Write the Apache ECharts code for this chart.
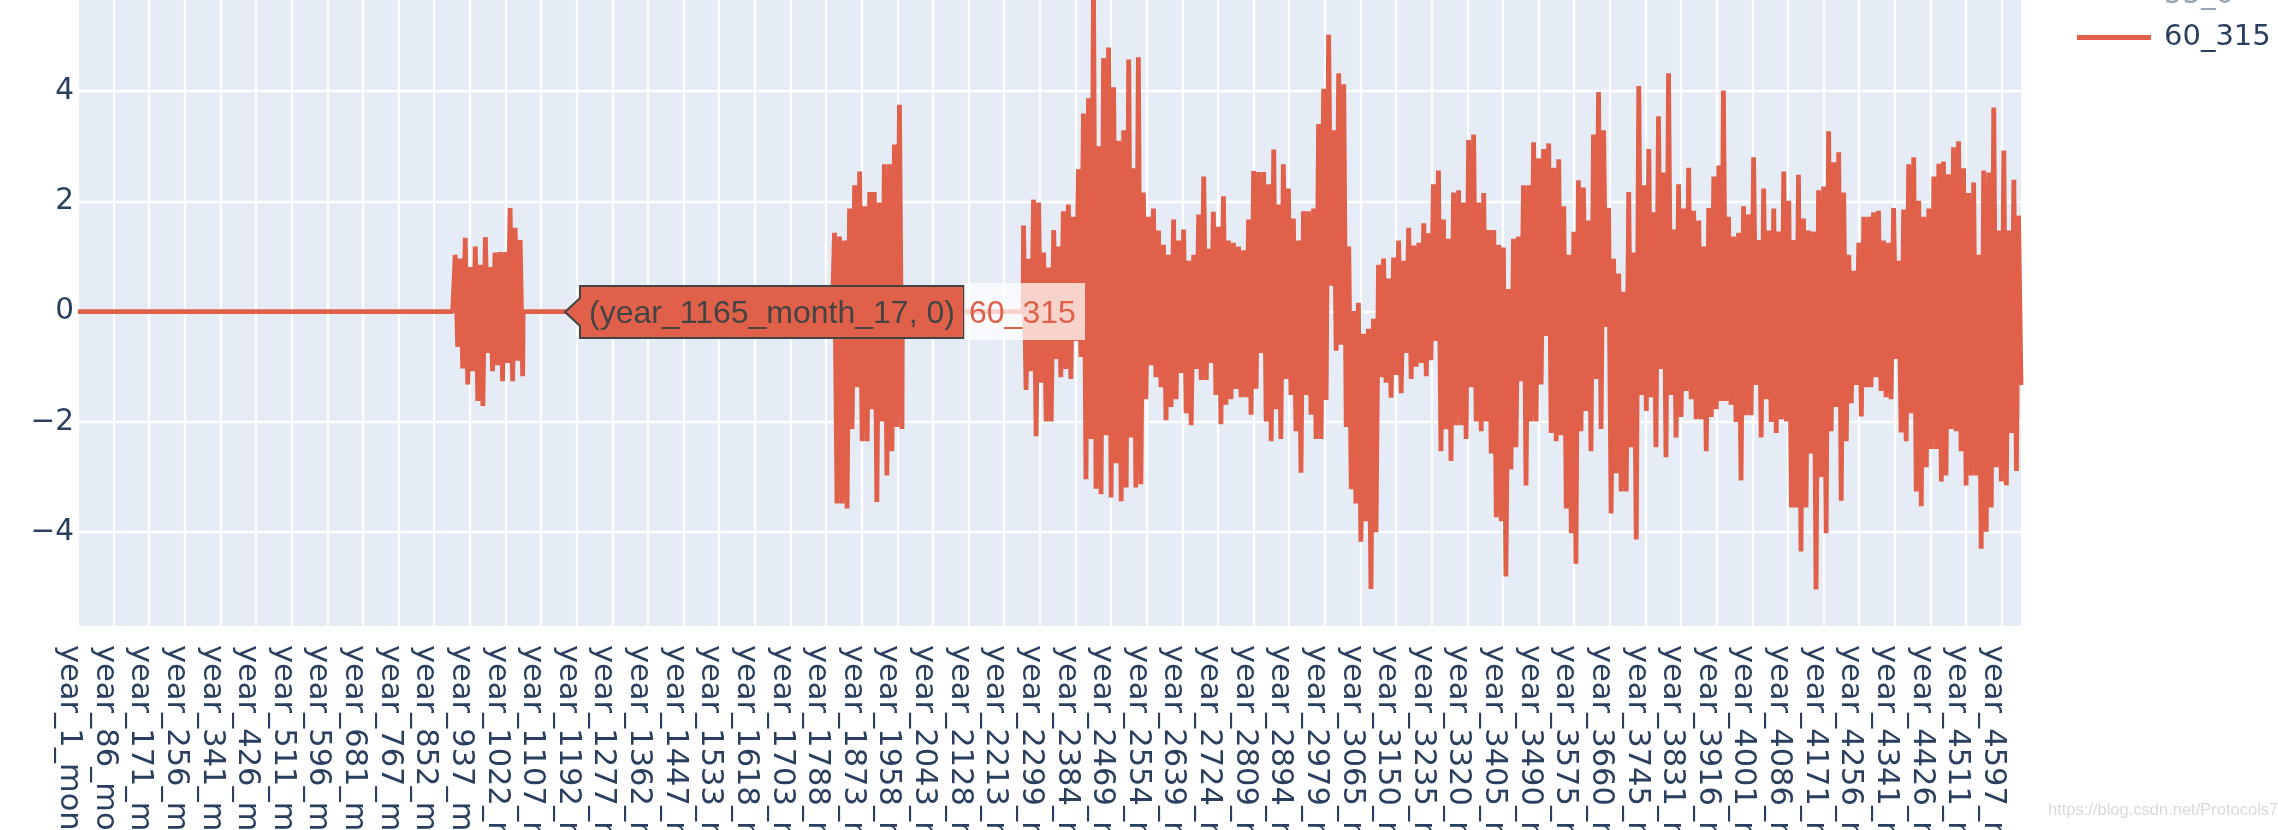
<!DOCTYPE html>
<html>
<head>
<meta charset="utf-8">
<script src="https://cdn.jsdelivr.net/npm/echarts@6/dist/echarts.min.js"></script>
<style>
html, body { margin: 0; padding: 0; background: #ffffff; }
#chart { width: 2278px; height: 830px; }
</style>
</head>
<body>
<div id="chart"></div>
<script>
// ---------------- data ----------------
const tickYears = [1,86,171,256,341,426,511,596,681,767,852,937,1022,1107,1192,1277,1362,1447,1533,1618,1703,1788,1873,1958,2043,2128,2213,2299,2384,2469,2554,2639,2724,2809,2894,2979,3065,3150,3235,3320,3405,3490,3575,3660,3745,3831,3916,4001,4086,4171,4256,4341,4426,4511,4597];
const categoriesPerTick = 85;
const categoryCount = 4637;
const yTicks = [-4, -2, 0, 2, 4];
const seriesNames = ['55_0', '60_315'];
const hoverCategory = 'year_1165_month_17';
const sampleStep = 5.966;             // categories between successive readings
const flatZeroRanges = [[0, 899], [1062, 1804], [1967, 2255]];

const burst1Start = 900;
const burst1High = [1.03,0.96,1.34,0.81,1.18,0.85,1.35,0.81,1.07,1.08,1.08,1.88,1.52,1.30];
const burst1Low  = [-0.64,-1.03,-1.32,-1.08,-1.62,-1.71,-0.75,-1.08,-0.97,-1.26,-0.93,-1.26,-0.89,-1.17];

const burst2Start = 1805;
const burst2High = [1.43,1.36,1.29,1.87,2.29,2.54,1.91,2.17,2.17,1.98,2.67,2.67,3.03,3.75];
const burst2Low  = [-3.48,-3.48,-3.57,-2.13,-1.37,-2.35,-2.35,-1.77,-3.45,-1.99,-2.97,-2.53,-2.09,-2.13];

const mainStart = 2256;
const mainHigh = [
  1.56,0.96,2.03,1.98,1.07,0.80,1.48,1.18,1.82,1.94,1.72,2.58,3.59,3.87,5.90,3.00,4.60,4.79,4.07,3.10,
  3.29,4.57,2.60,4.61,2.16,1.72,1.87,1.47,1.21,1.03,1.67,1.29,1.49,0.92,1.03,1.76,2.45,1.14,1.81,1.54,
  2.09,1.29,1.25,1.18,1.11,1.67,2.55,2.53,2.53,2.31,2.94,1.94,2.67,2.23,1.69,1.29,1.82,1.82,1.87,3.40,
  4.04,5.02,3.29,4.32,4.12,1.18,
  0.01,0.16,-0.40,-0.31,-0.13,0.85,0.96,0.60,0.98,1.29,0.92,1.52,1.20,1.25,1.60,1.42,2.31,2.56,1.67,1.32,
  2.16,2.20,1.98,3.11,3.21,1.98,2.15,1.48,1.48,1.21,1.16,0.41,1.32,1.36,2.29,2.29,3.07,2.78,2.95,3.05,
  2.61,2.76,1.91,1.03,1.45,2.38,2.25,1.65,3.21,3.98,3.29,1.88,0.96,0.69,0.36,2.17,1.07,4.09,2.29,2.95,
  1.80,3.54,2.52,4.32,1.49,
  2.31,1.87,2.61,1.83,1.65,1.18,1.88,2.45,2.65,4.01,1.72,1.36,1.43,1.91,1.76,2.80,1.30,2.23,1.47,1.87,
  1.45,2.54,2.01,1.30,2.48,1.69,1.47,1.45,2.20,2.27,3.27,2.71,2.89,2.16,1.03,0.74,1.25,1.72,1.72,1.80,
  1.83,1.29,1.25,1.88,0.92,1.85,2.67,2.80,2.01,1.72,1.87,2.45,2.68,2.72,2.49,2.98,3.09,2.60,2.15,2.34,
  1.03,2.56,2.52,3.70,1.47,2.92,1.47,2.39,1.74
];
const mainLow = [
  -1.42,-1.08,-2.26,-1.29,-1.99,-1.99,-0.86,-1.19,-1.04,-1.22,-0.53,-0.82,-3.04,-2.31,-3.21,-3.31,-2.24,-3.37,-2.75,-3.44,
  -3.19,-2.28,-3.19,-3.13,-1.59,-0.97,-1.19,-1.37,-1.97,-1.73,-1.59,-1.11,-1.84,-2.06,-1.04,-1.24,-1.24,-0.93,-1.51,-2.04,
  -1.69,-1.59,-1.40,-1.55,-1.55,-1.87,-1.40,-0.75,-1.99,-2.35,-1.77,-2.31,-1.22,-1.51,-2.17,-2.92,-1.51,-1.87,-2.31,-2.31,
  -1.60,0.47,-0.71,-0.60,-2.09,-3.22,
  -3.48,-4.17,-3.80,-5.03,-4.00,-1.19,-1.29,-1.56,-1.15,-1.48,-0.75,-1.22,-1.00,-0.93,-1.17,-0.88,-0.53,-2.53,-2.13,-2.71,
  -2.06,-2.06,-2.31,-1.37,-1.99,-2.17,-1.99,-2.57,-3.73,-3.80,-4.80,-2.86,-2.46,-1.26,-3.15,-1.99,-1.99,-1.32,-0.44,-2.20,
  -2.35,-2.24,-3.57,-4.02,-4.57,-2.17,-1.80,-2.53,-1.22,-2.13,-0.28,-3.66,-2.93,-3.26,-3.26,-2.46,-4.13,-1.51,-1.80,-1.55,
  -2.46,-1.04,-2.64,-1.51,-2.28,
  -1.91,-1.44,-1.59,-1.95,-1.95,-2.53,-1.91,-1.77,-1.62,-1.62,-1.69,-2.00,-3.06,-1.88,-1.88,-1.33,-2.28,-1.59,-2.00,-2.20,
  -1.95,-1.99,-3.55,-3.55,-4.35,-3.55,-2.57,-5.04,-3.00,-4.02,-2.17,-1.73,-3.43,-2.35,-1.66,-1.33,-1.90,-1.37,-1.37,-1.19,
  -1.44,-1.55,-1.59,-0.86,-2.19,-2.35,-1.84,-3.26,-3.53,-2.82,-2.49,-2.49,-3.08,-2.97,-2.13,-2.17,-2.53,-3.15,-2.97,-2.97,
  -4.30,-3.99,-3.55,-2.82,-3.08,-3.15,-2.20,-2.89,-1.33
];

// ---------------- build categories & series ----------------
const categories = [];
for (let i = 0; i < categoryCount; i++) {
  const k = Math.floor(i / categoriesPerTick);
  const year = tickYears[k] + (i - k * categoriesPerTick);
  categories.push('year_' + year + '_month_' + (((i + 5) % 24) + 1));
}

const values = new Array(categoryCount).fill(null);
flatZeroRanges.forEach(function (r) { for (let i = r[0]; i <= r[1]; i++) values[i] = 0; });
function placeSegment(start, highs, lows) {
  for (let j = 0; j < highs.length; j++) {
    values[Math.min(categoryCount - 1, Math.round(start + 2 * j * sampleStep))] = highs[j];
    values[Math.min(categoryCount - 1, Math.round(start + (2 * j + 1) * sampleStep))] = lows[j];
  }
}
placeSegment(burst1Start, burst1High, burst1Low);
placeSegment(burst2Start, burst2High, burst2Low);
placeSegment(mainStart, mainHigh, mainLow);

const LINE = '#E0604A';
const TEXT = '#2a3f5f';
const FONT = '"DejaVu Sans", Verdana, sans-serif';
const HOVER_FONT = '"Liberation Sans", Arial, sans-serif';

const chart = echarts.init(document.getElementById('chart'), null, { renderer: 'canvas' });

const option = {
  animation: false,
  backgroundColor: '#ffffff',
  grid: {
    left: 78, right: 257, top: 0, bottom: 204,
    show: true, backgroundColor: '#E5ECF6', borderWidth: 0,
    containLabel: false, outerBoundsMode: 'none'
  },
  legend: {
    data: seriesNames,
    selected: { '55_0': false },
    orient: 'vertical',
    left: 2072, top: -24,
    itemWidth: 74, itemHeight: 5, itemGap: 13,
    icon: 'rect',
    inactiveColor: '#98A3B3',
    textStyle: { color: TEXT, fontSize: 29, fontFamily: FONT, lineHeight: 29, padding: [0, 0, 0, 8] }
  },
  tooltip: {
    trigger: 'axis',
    triggerOn: 'none',
    alwaysShowContent: true,
    axisPointer: { type: 'none' },
    backgroundColor: 'transparent',
    borderWidth: 0,
    padding: 0,
    transitionDuration: 0,
    extraCssText: 'box-shadow:none;line-height:0;',
    position: function (point) { return [point[0], point[1] - 30]; },
    formatter: function (params) {
      const p = params[0];
      const main = '(' + p.name + ', ' + p.value + ')';
      return '<svg width="530" height="62" style="display:block;overflow:visible">' +
        '<path d="M0,30 L15,16 V4 H399 V56 H15 V44 Z" fill="' + LINE + '" stroke="#444" stroke-width="2"/>' +
        '<text x="24" y="41" font-family=\'' + HOVER_FONT + '\' font-size="32" fill="#444">' + main + '</text>' +
        '<rect x="399" y="1" width="121" height="57" fill="rgba(255,255,255,0.72)"/>' +
        '<text x="404" y="41" font-family=\'' + HOVER_FONT + '\' font-size="32" fill="' + LINE + '">' + p.seriesName + '</text>' +
        '</svg>';
    }
  },
  xAxis: {
    type: 'category',
    data: categories,
    boundaryGap: false,
    axisLine: { show: false },
    axisTick: { show: false },
    axisLabel: {
      interval: function (index) { return index % categoriesPerTick === 0; },
      rotate: -90,
      margin: 19,
      align: 'left',
      verticalAlign: 'top',
      lineHeight: 18,
      color: TEXT,
      fontSize: 30.5,
      fontFamily: FONT
    },
    splitLine: {
      show: true,
      interval: function (index) { return index % categoriesPerTick === 0; },
      lineStyle: { color: '#ffffff', width: 2.4 }
    }
  },
  yAxis: {
    type: 'value',
    min: -5.70,
    max: 5.65,
    axisLine: { show: false },
    axisTick: { show: false, customValues: yTicks },
    axisLabel: {
      customValues: yTicks,
      margin: 4,
      color: TEXT,
      fontSize: 29.5,
      fontFamily: FONT,
      formatter: function (v) { return v < 0 ? '\u2212' + (-v) : String(v); }
    },
    splitLine: { show: true, lineStyle: { color: '#ffffff', width: 2.4 } }
  },
  graphic: [{
    type: 'text', left: 2048, top: 802, silent: true,
    style: { text: 'https://blog.csdn.net/Protocols7', fill: '#d9d9d9', font: '16.5px "Liberation Sans", Arial, sans-serif' }
  }],
  series: [
    { name: seriesNames[0], type: 'line', data: [], symbol: 'none', itemStyle: { color: '#00cc96' } },
    {
      name: seriesNames[1], type: 'line', data: values,
      symbol: 'none', showSymbol: false, connectNulls: true,
      itemStyle: { color: LINE },
      lineStyle: { color: LINE, width: 4.8, join: 'bevel' },
      emphasis: { disabled: true },
      clip: true
    }
  ]
};
chart.setOption(option);
chart.dispatchAction({ type: 'showTip', seriesIndex: 1, dataIndex: categories.indexOf(hoverCategory) });
</script>
</body>
</html>
